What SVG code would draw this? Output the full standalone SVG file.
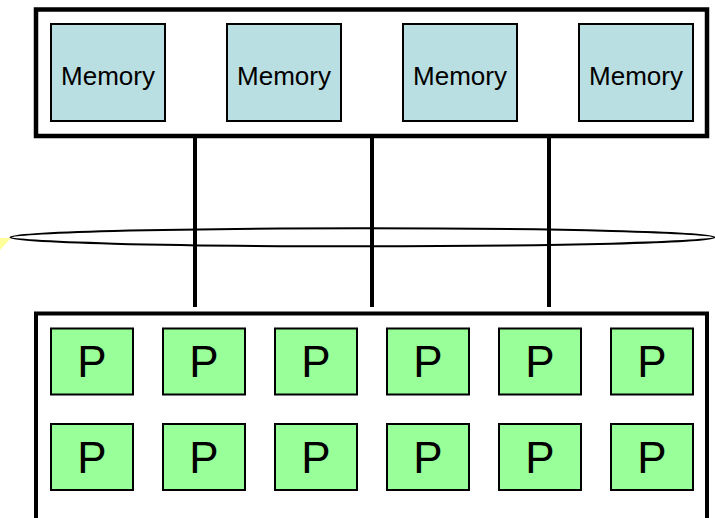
<svg xmlns="http://www.w3.org/2000/svg" width="715" height="518" viewBox="0 0 715 518">
<style>
.frame{fill:#fff;stroke:#000;stroke-width:4.5}
.mem rect{fill:#badfe2;stroke:#000;stroke-width:2}
.mem text{font-family:"Liberation Sans",Arial,sans-serif;font-size:26px;fill:#000;text-anchor:middle}
.p rect{fill:#99ff99;stroke:#000;stroke-width:2}
.p text{font-family:"Liberation Sans",Arial,sans-serif;font-size:44px;fill:#000;text-anchor:middle}
.bus{stroke:#000;stroke-width:4;fill:none}
</style>
<rect width="715" height="518" fill="#fff"/>
<polygon points="0,238 11,238 0,250" fill="#ffff99"/>
<g id="memory-module">
<rect class="frame" x="36" y="9.5" width="671" height="126.5"/>
</g>
<g id="mem1" class="mem"><rect x="51" y="24" width="114" height="97"/><text x="108" y="85">Memory</text></g>
<g id="mem2" class="mem"><rect x="227" y="24" width="114" height="97"/><text x="284" y="85">Memory</text></g>
<g id="mem3" class="mem"><rect x="403" y="24" width="114" height="97"/><text x="460" y="85">Memory</text></g>
<g id="mem4" class="mem"><rect x="579" y="24" width="114" height="97"/><text x="636" y="85">Memory</text></g>
<g id="proc-module">
<path d="M36,530 V313.5 H707 V530" fill="#fff" stroke="#000" stroke-width="4"/>
</g>
<g id="connectors">
<ellipse cx="362.5" cy="237.3" rx="352" ry="9" fill="none" stroke="#000" stroke-width="2"/>
<line class="bus" x1="195" y1="136" x2="195" y2="307"/>
<line class="bus" x1="372" y1="136" x2="372" y2="307"/>
<line class="bus" x1="549" y1="136" x2="549" y2="307"/>
</g>
<g id="p1" class="p"><rect x="51" y="328.5" width="82" height="66"/><text x="92" y="377">P</text></g>
<g id="p2" class="p"><rect x="163" y="328.5" width="82" height="66"/><text x="204" y="377">P</text></g>
<g id="p3" class="p"><rect x="275" y="328.5" width="82" height="66"/><text x="316" y="377">P</text></g>
<g id="p4" class="p"><rect x="387" y="328.5" width="82" height="66"/><text x="428" y="377">P</text></g>
<g id="p5" class="p"><rect x="499" y="328.5" width="82" height="66"/><text x="540" y="377">P</text></g>
<g id="p6" class="p"><rect x="611" y="328.5" width="82" height="66"/><text x="652" y="377">P</text></g>
<g id="p7" class="p"><rect x="51" y="424" width="82" height="66"/><text x="92" y="472.5">P</text></g>
<g id="p8" class="p"><rect x="163" y="424" width="82" height="66"/><text x="204" y="472.5">P</text></g>
<g id="p9" class="p"><rect x="275" y="424" width="82" height="66"/><text x="316" y="472.5">P</text></g>
<g id="p10" class="p"><rect x="387" y="424" width="82" height="66"/><text x="428" y="472.5">P</text></g>
<g id="p11" class="p"><rect x="499" y="424" width="82" height="66"/><text x="540" y="472.5">P</text></g>
<g id="p12" class="p"><rect x="611" y="424" width="82" height="66"/><text x="652" y="472.5">P</text></g>
</svg>
